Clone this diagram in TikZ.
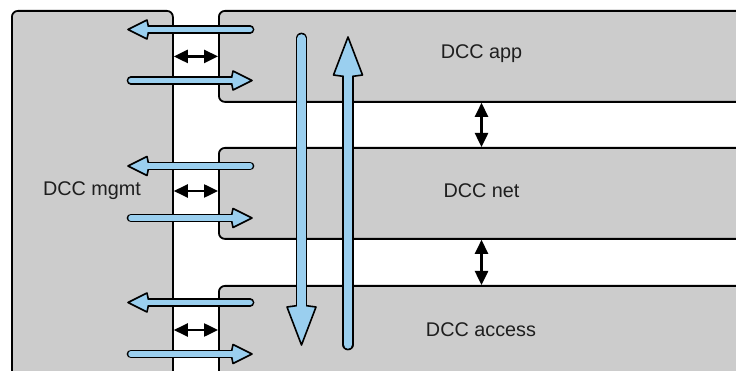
\documentclass[tikz,border=0pt]{standalone}
\usepackage{fontspec}
\setmainfont{Liberation Sans}
\usetikzlibrary{calc,arrows.meta}

\definecolor{boxgray}{HTML}{CCCCCC}
\definecolor{arrowblue}{HTML}{9ACFEF}
\definecolor{labeltext}{HTML}{1E1E1E}

% Fat outlined arrow: #1 tail, #2 tip, #3 head length, #4 head half-width,
% #5 inner shaft width, #6 outer (outlined) shaft width
\newcommand\fatarrow[6]{%
  \coordinate (fa-c) at ($(#2)!#3!(#1)$);
  \draw[line width=#6, line cap=round, black] (#1) -- (fa-c);
  \filldraw[fill=arrowblue, draw=black, line width=1.6pt, line join=round]
    (#2) -- ($(fa-c)!#4!90:(#2)$) -- ($(fa-c)!2pt!(#1)$) -- ($(fa-c)!#4!-90:(#2)$) -- cycle;
  \draw[line width=#5, line cap=round, arrowblue] (#1) -- ($(fa-c)!2pt!(#2)$);
}

\tikzset{
  layerbox/.style={fill=boxgray, draw=black, line width=1.8pt, rounded corners=6pt,
    inner sep=0pt, anchor=north west},
  layerlabel/.style={text=labeltext, font=\fontsize{19.8}{22}\selectfont, inner sep=0pt},
  gaparrow/.style={line width=2.5pt, black,
    {Triangle[length=14pt,width=13pt]}-{Triangle[length=14pt,width=13pt]}},
}

\begin{document}
\begin{tikzpicture}[x=1pt, y=-1pt]
\useasboundingbox (0,0) rectangle (736,371);
\clip (0,0) rectangle (736,371);
\fill[white] (0,0) rectangle (736,371);

% layer boxes
\node[layerbox, minimum width=161pt, minimum height=380pt] (mgmt) at (11,10) {};
\node[layerbox, minimum width=560pt, minimum height=91pt] (app) at (218,10) {};
\node[layerbox, minimum width=560pt, minimum height=91pt] (net) at (218,147) {};
\node[layerbox, minimum width=560pt, minimum height=100pt] (access) at (218,285) {};

% labels
\node[layerlabel] (lapp) at (481.5,54) {DCC app};
\node[layerlabel] (lnet) at (481.5,191) {DCC net};
\node[layerlabel] (laccess) at (481,330) {DCC access};
\node[layerlabel] (lmgmt) at (92,191) {DCC mgmt};

% management interface arrows
\draw[gaparrow] (mgmt.east |- app.west) -- (app.west);
\draw[gaparrow] (mgmt.east |- lnet) -- (net.west |- lnet);
\draw[gaparrow] (mgmt.east |- laccess) -- (access.west |- laccess);

% inter-layer arrows
\draw[gaparrow] (app.south -| lapp) -- (net.north -| lapp);
\draw[gaparrow] (net.south -| lapp) -- (access.north -| lapp);

% service primitives between management and layers
\coordinate (a1t) at (250,29.5);  \coordinate (a1h) at (128,29.5);
\coordinate (a2t) at (131,80.5);  \coordinate (a2h) at (252,80.5);
\coordinate (n1t) at (250,166);   \coordinate (n1h) at (128,166);
\coordinate (n2t) at (131,218);   \coordinate (n2h) at (252,218);
\coordinate (c1t) at (250,302.5); \coordinate (c1h) at (128,302.5);
\coordinate (c2t) at (131,354);   \coordinate (c2h) at (252,354);
\fatarrow{a1t}{a1h}{19pt}{9.5pt}{5.5pt}{8.7pt}
\fatarrow{a2t}{a2h}{19pt}{9.5pt}{5.5pt}{8.7pt}
\fatarrow{n1t}{n1h}{19pt}{9.5pt}{5.5pt}{8.7pt}
\fatarrow{n2t}{n2h}{19pt}{9.5pt}{5.5pt}{8.7pt}
\fatarrow{c1t}{c1h}{19pt}{9.5pt}{5.5pt}{8.7pt}
\fatarrow{c2t}{c2h}{19pt}{9.5pt}{5.5pt}{8.7pt}

% data flow through the stack
\coordinate (downt) at (301.5,38.5); \coordinate (downh) at (301.5,345);
\coordinate (upt) at (348,344.5);    \coordinate (uph) at (348,37);
\fatarrow{downt}{downh}{38pt}{14.5pt}{8.5pt}{11.7pt}
\fatarrow{upt}{uph}{38pt}{14.5pt}{8.5pt}{11.7pt}
\end{tikzpicture}
\end{document}
